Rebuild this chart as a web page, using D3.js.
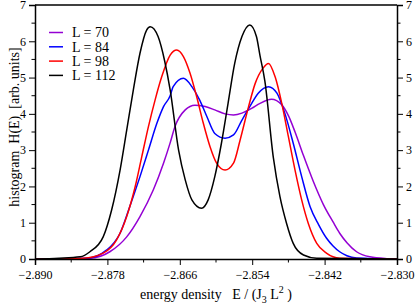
<!DOCTYPE html>
<html>
<head>
<meta charset="utf-8">
<script src="https://cdn.jsdelivr.net/npm/d3@7/dist/d3.min.js"></script>
<style>
  body { margin: 0; background: #fff; }
  svg { display: block; font-family: "Liberation Serif", "DejaVu Serif", serif; }
  .curve { fill: none; stroke-width: 1.5; stroke-linejoin: round; }
</style>
</head>
<body>
<svg id="chart" width="415" height="304"></svg>
<script>
// histogram H(E) vs energy density, one array of [E, H] per system size
const sizes = [70, 84, 98, 112];
const colors = ['#9400d3', '#0000ff', '#ff0000', '#000000'];

const h70 = [
  [-2.8900, 0], [-2.8840, 0.01], [-2.8809, 0.02], [-2.8776, 0.2], [-2.8748, 0.61],
  [-2.8726, 1.17], [-2.8704, 1.90], [-2.8687, 2.64], [-2.8676, 3.20], [-2.8668, 3.65],
  [-2.8651, 4.11], [-2.8635, 4.24], [-2.8618, 4.20], [-2.8602, 4.11], [-2.8585, 4.00],
  [-2.8571, 3.97], [-2.8557, 4.02], [-2.8541, 4.15], [-2.8527, 4.29], [-2.8508, 4.40],
  [-2.8491, 4.25], [-2.8480, 3.95], [-2.8469, 3.50], [-2.8455, 2.85], [-2.8439, 2.15],
  [-2.8422, 1.50], [-2.8406, 1.02], [-2.8395, 0.71], [-2.8383, 0.45], [-2.8367, 0.2],
  [-2.8345, 0.06], [-2.8317, 0.01], [-2.8300, 0]
];

const h84 = [
  [-2.8900, 0], [-2.8850, 0.01], [-2.8814, 0.02], [-2.8781, 0.25], [-2.8759, 0.71],
  [-2.8743, 1.44], [-2.8726, 2.27], [-2.8712, 3.00], [-2.8698, 3.74], [-2.8687, 4.20],
  [-2.8676, 4.50], [-2.8671, 4.75], [-2.8654, 4.98], [-2.8640, 4.75], [-2.8627, 4.38],
  [-2.8615, 3.92], [-2.8602, 3.46], [-2.8585, 3.33], [-2.8571, 3.42], [-2.8557, 3.83],
  [-2.8544, 4.20], [-2.8530, 4.57], [-2.8513, 4.75], [-2.8499, 4.57], [-2.8486, 4.02],
  [-2.8472, 3.19], [-2.8458, 2.27], [-2.8444, 1.44], [-2.8430, 0.95], [-2.8417, 0.58],
  [-2.8406, 0.36], [-2.8395, 0.20], [-2.8383, 0.09], [-2.8367, 0.03], [-2.8300, 0]
];

const h98 = [
  [-2.8900, 0], [-2.8850, 0.01], [-2.8820, 0.02], [-2.8787, 0.16], [-2.8765, 0.52],
  [-2.8748, 1.17], [-2.8734, 1.99], [-2.8723, 2.82], [-2.8712, 3.65], [-2.8701, 4.38],
  [-2.8690, 5.02], [-2.8676, 5.62], [-2.8665, 5.76], [-2.8654, 5.58], [-2.8643, 5.12],
  [-2.8632, 4.47], [-2.8621, 3.74], [-2.8610, 3.10], [-2.8599, 2.64], [-2.8585, 2.45],
  [-2.8571, 2.64], [-2.8560, 3.28], [-2.8546, 4.20], [-2.8535, 4.84], [-2.8522, 5.26],
  [-2.8513, 5.39], [-2.8502, 5.02], [-2.8491, 4.29], [-2.8480, 3.37], [-2.8469, 2.45],
  [-2.8458, 1.63], [-2.8447, 0.98], [-2.8433, 0.43], [-2.8417, 0.16], [-2.8395, 0.02],
  [-2.8300, 0]
];

const h112 = [
  [-2.8900, 0], [-2.8860, 0.02], [-2.8825, 0.06], [-2.8809, 0.2], [-2.8787, 0.61],
  [-2.8773, 1.35], [-2.8759, 2.45], [-2.8748, 3.55], [-2.8737, 4.66], [-2.8726, 5.67],
  [-2.8715, 6.31], [-2.8709, 6.40], [-2.8696, 6.13], [-2.8685, 5.45], [-2.8676, 4.66],
  [-2.8662, 3.00], [-2.8651, 2.18], [-2.8640, 1.63], [-2.8624, 1.40], [-2.8613, 1.63],
  [-2.8602, 2.27], [-2.8591, 3.19], [-2.8580, 4.29], [-2.8569, 5.39], [-2.8557, 6.13],
  [-2.8544, 6.45], [-2.8533, 6.13], [-2.8527, 5.60], [-2.8519, 4.90], [-2.8505, 2.80],
  [-2.8494, 1.72], [-2.8483, 0.98], [-2.8472, 0.43], [-2.8455, 0.11], [-2.8433, 0.02],
  [-2.8300, 0]
];

const series = [h70, h84, h98, h112];

const xTicks = [-2.890, -2.878, -2.866, -2.854, -2.842, -2.830];
const xMinor = [-2.884, -2.872, -2.860, -2.848, -2.836];
const yTicks = [0, 1, 2, 3, 4, 5, 6, 7];
const yMinor = [0.5, 1.5, 2.5, 3.5, 4.5, 5.5, 6.5];

const margin = { left: 35, right: 18, top: 5, bottom: 45 };
const W = 415, H = 304;

const svg = d3.select('#chart');

const x = d3.scaleLinear()
  .domain([-2.890, -2.830])
  .range([margin.left, W - margin.right]);
const y = d3.scaleLinear()
  .domain([0, 7])
  .range([H - margin.bottom, margin.top]);

// curves
const line = d3.line()
  .x(d => x(d[0]))
  .y(d => y(d[1]))
  .curve(d3.curveMonotoneX);

svg.append('g')
  .selectAll('path')
  .data(series)
  .enter().append('path')
  .attr('class', 'curve')
  .attr('stroke', (d, i) => colors[i])
  .attr('d', line);

// axes
const fmt = d3.format('.3f');

function styleAxis(g) {
  g.attr('font-family', '"Liberation Serif", serif').attr('font-size', 12);
  g.selectAll('.tick text').attr('fill', '#000');
  g.select('.domain').attr('stroke-width', 1.5);
}

svg.append('g')
  .attr('transform', `translate(0,${y(0)})`)
  .call(d3.axisBottom(x).tickValues(xTicks).tickFormat(fmt).tickSize(6).tickPadding(5))
  .call(styleAxis)
  .call(g => g.append('g').selectAll('line').data(xMinor).enter().append('line')
    .attr('x1', d => x(d)).attr('x2', d => x(d)).attr('y2', 3.5).attr('stroke', '#000'));

svg.append('g')
  .attr('transform', `translate(${x(-2.890)},0)`)
  .call(d3.axisLeft(y).tickValues(yTicks).tickFormat(d3.format('d')).tickSize(6).tickPadding(3))
  .call(styleAxis)
  .call(g => g.append('g').selectAll('line').data(yMinor).enter().append('line')
    .attr('y1', d => y(d)).attr('y2', d => y(d)).attr('x2', -3.5).attr('stroke', '#000'));

svg.append('g')
  .attr('transform', `translate(${x(-2.830)},0)`)
  .call(d3.axisRight(y).tickValues(yTicks).tickFormat(d3.format('d')).tickSize(6).tickPadding(3))
  .call(styleAxis)
  .call(g => g.append('g').selectAll('line').data(yMinor).enter().append('line')
    .attr('y1', d => y(d)).attr('y2', d => y(d)).attr('x2', 3.5).attr('stroke', '#000'));

// top frame line
svg.append('line')
  .attr('x1', x(-2.890)).attr('x2', x(-2.830))
  .attr('y1', y(7)).attr('y2', y(7))
  .attr('stroke', '#000').attr('stroke-width', 1.5);

// axis titles
const xt = svg.append('text')
  .attr('x', (x(-2.890) + x(-2.830)) / 2)
  .attr('y', 299)
  .attr('text-anchor', 'middle')
  .attr('font-size', 14)
  .attr('xml:space', 'preserve');
xt.append('tspan').text('energy density   E / (J');
xt.append('tspan').attr('font-size', 10).attr('dy', 4).text('3');
xt.append('tspan').attr('dy', -4).text(' L');
xt.append('tspan').attr('font-size', 10).attr('dy', -6).text('2');
xt.append('tspan').attr('dy', 6).text(' )');

svg.append('text')
  .attr('transform', `translate(19,${(y(0) + y(7)) / 2 - 5}) rotate(-90)`)
  .attr('text-anchor', 'middle')
  .attr('font-size', 14)
  .attr('xml:space', 'preserve')
  .text('histogram  H(E)  [arb. units]');

// legend
const legend = svg.append('g').attr('class', 'legend');
sizes.forEach((L, i) => {
  const ly = 32.5 + i * 14.3;
  legend.append('line')
    .attr('x1', 49).attr('x2', 63)
    .attr('y1', ly).attr('y2', ly)
    .attr('stroke', colors[i]).attr('stroke-width', 1.5);
  legend.append('text')
    .attr('x', 72).attr('y', ly + 4.8)
    .attr('font-size', 14)
    .text(`L = ${L}`);
});
</script>
</body>
</html>
